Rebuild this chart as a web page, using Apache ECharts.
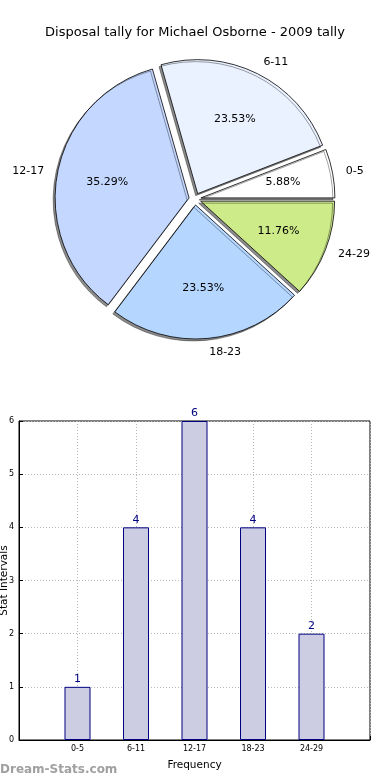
<!DOCTYPE html>
<html>
<head>
<meta charset="utf-8">
<script src="https://cdn.jsdelivr.net/npm/echarts@6/dist/echarts.min.js"></script>
<style>html,body{margin:0;padding:0;background:#fff}#c{width:390px;height:780px}</style>
</head>
<body>
<div id="c"></div>
<script>
var titleText = 'Disposal tally for Michael Osborne - 2009 tally';
var categories = ['0-5', '6-11', '12-17', '18-23', '24-29'];
var tallies = [1, 4, 6, 4, 2];
var sliceColors = ['#ffffff', '#eaf2ff', '#c4d8ff', '#b4d6ff', '#ceeb8a'];
var yTicks = [0, 1, 2, 3, 4, 5, 6];
var xAxisName = 'Frequency';
var yAxisName = 'Stat Intervals';
var watermark = 'Dream-Stats.com';

var FONT = 'DejaVu Sans';
var total = tallies.reduce(function (a, b) { return a + b; }, 0);
var R = 134;

function pieData(withColor) {
  return categories.map(function (c, i) {
    return {
      name: c,
      value: tallies[i],
      selected: true,
      itemStyle: withColor ? { color: sliceColors[i] } : { color: 'rgba(0,0,0,0)', borderWidth: 0 }
    };
  });
}

var chart = echarts.init(document.getElementById('c'), null, { renderer: 'canvas' });
chart.setOption({
  animation: false,
  textStyle: { fontFamily: FONT },
  title: {
    text: titleText, left: 'center', top: 21,
    textStyle: { fontFamily: FONT, fontSize: 13, fontWeight: 'normal', color: '#000' }
  },
  grid: {
    left: 19, right: 20, top: 421, bottom: 40, show: true, borderColor: '#000', borderWidth: 1,
    containLabel: false, outerBoundsMode: 'none'
  },
  xAxis: {
    type: 'value', min: 0, max: 6, interval: 1,
    name: xAxisName, nameLocation: 'middle', nameGap: 20, nameMoveOverlap: false,
    nameTextStyle: { fontFamily: FONT, fontSize: 10.5, color: '#000' },
    axisLine: { show: true, lineStyle: { color: '#000' } },
    axisTick: { show: true, inside: true, length: 4, lineStyle: { color: '#000' } },
    axisLabel: {
      fontFamily: FONT, fontSize: 8, color: '#000', margin: 5,
      formatter: function (v) { return (v >= 1 && v <= categories.length) ? categories[v - 1] : ''; }
    },
    splitLine: { show: true, lineStyle: { color: '#b8b8b8', type: [1, 2], width: 1 } }
  },
  yAxis: {
    type: 'value', min: yTicks[0], max: yTicks[yTicks.length - 1], interval: 1,
    name: yAxisName, nameLocation: 'middle', nameGap: 9, nameRotate: 90, nameMoveOverlap: false,
    nameTextStyle: { fontFamily: FONT, fontSize: 10.5, color: '#000' },
    axisLine: { show: true, lineStyle: { color: '#000' } },
    axisTick: { show: true, inside: true, length: 4, lineStyle: { color: '#000' } },
    axisLabel: { fontFamily: FONT, fontSize: 8, color: '#000', margin: 5 },
    splitLine: { show: true, lineStyle: { color: '#b8b8b8', type: [1, 2], width: 1 } }
  },
  graphic: [{
    type: 'text', left: 0, top: 764,
    style: { text: watermark, fontFamily: FONT, fontSize: 12, fontWeight: 'bold', fill: '#a0a0a0' }
  }],
  series: [
    {
      type: 'bar',
      data: tallies.map(function (v, i) { return [i + 1, v]; }),
      barWidth: 26,
      itemStyle: { color: '#cccce2', borderColor: '#000080', borderWidth: 1 },
      label: { show: true, position: 'top', distance: 2, color: '#000080', fontFamily: FONT, fontSize: 11 },
      emphasis: { disabled: true }
    },
    {
      type: 'pie',
      center: [195, 199],
      radius: [0, R],
      startAngle: 0,
      clockwise: false,
      selectedMode: 'multiple',
      selectedOffset: 6,
      avoidLabelOverlap: false,
      silent: true,
      data: pieData(true),
      itemStyle: {
        borderColor: '#000', borderWidth: 0.8,
        shadowColor: 'rgba(0,0,0,0.45)', shadowBlur: 0, shadowOffsetX: -2, shadowOffsetY: 2
      },
      label: {
        show: true, position: 'outside', color: '#000', fontFamily: FONT, fontSize: 11,
        distanceToLabelLine: 0, formatter: '{b}'
      },
      labelLine: { show: false, length: R * 0.1, length2: 0 },
      emphasis: { disabled: true }
    },
    {
      type: 'pie',
      center: [195, 199],
      radius: [R * 0.2, R],
      startAngle: 0,
      clockwise: false,
      selectedMode: 'multiple',
      selectedOffset: 6,
      avoidLabelOverlap: false,
      silent: true,
      data: pieData(false),
      label: {
        show: true, position: 'inside', color: '#000', fontFamily: FONT, fontSize: 11,
        formatter: function (p) { return (p.value / total * 100).toFixed(2) + '%'; }
      },
      labelLine: { show: false },
      emphasis: { disabled: true }
    }
  ]
});
</script>
</body>
</html>
